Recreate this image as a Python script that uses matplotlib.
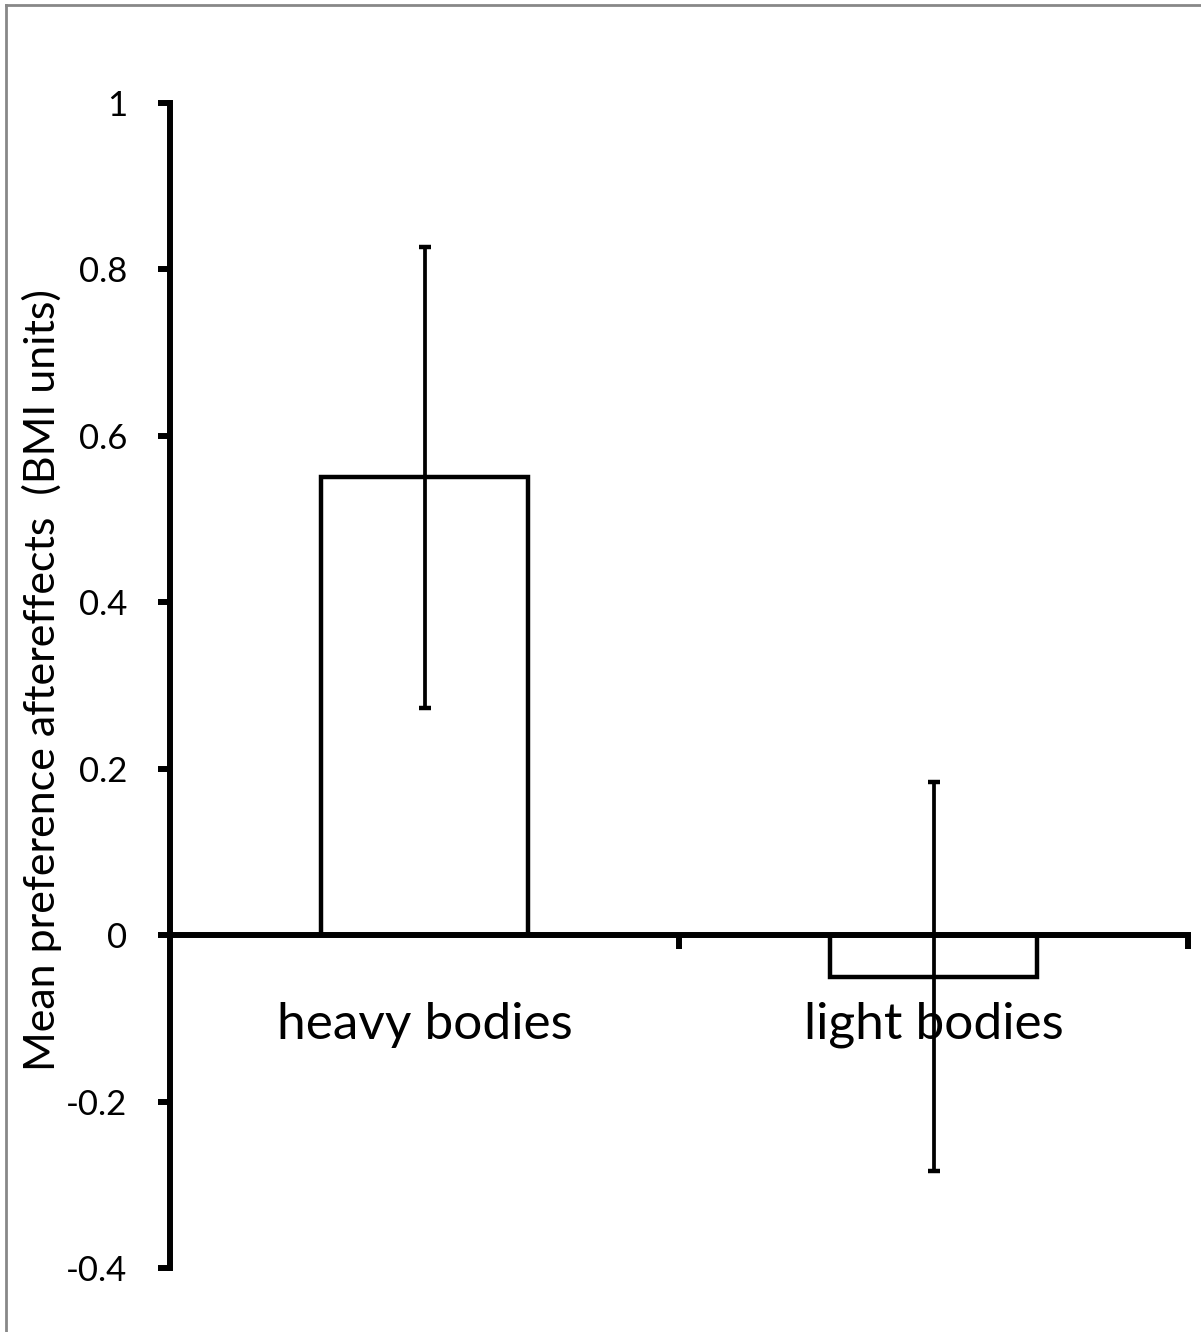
import matplotlib
matplotlib.use("Agg")
import matplotlib.pyplot as plt
from matplotlib.lines import Line2D

categories = ["heavy bodies", "light bodies"]
means = [0.55, -0.05]
errors = [0.277, 0.234]
yticks = [-0.4, -0.2, 0, 0.2, 0.4, 0.6, 0.8, 1]
ytick_labels = ["-0.4", "-0.2", "0", "0.2", "0.4", "0.6", "0.8", "1"]
ylabel = "Mean preference aftereffects  (BMI units)"

plt.rcParams['font.family'] = ['Lato', 'DejaVu Sans']

fig = plt.figure(figsize=(12.01, 13.32), dpi=100)
ax = fig.add_axes([170/1201, 1 - 1268/1332, (1188-170)/1201, (1268-103)/1332])

x = [0.5, 1.5]
ax.bar(x, means, width=0.405, color='white', edgecolor='black', linewidth=3.2, zorder=2)
ax.errorbar(x, means, yerr=errors, fmt='none', ecolor='black', elinewidth=2.7,
            capsize=4.5, capthick=3.2, zorder=3)

ax.set_xlim(0, 2)
ax.set_ylim(-0.4, 1)
ax.spines['top'].set_visible(False)
ax.spines['right'].set_visible(False)
ax.spines['left'].set_linewidth(4.3)
ax.spines['bottom'].set_linewidth(4.3)
ax.spines['bottom'].set_position(('data', 0))
ax.spines['left'].set_zorder(4)
ax.spines['bottom'].set_zorder(4)

ax.set_yticks(yticks)
ax.set_yticklabels(ytick_labels, fontsize=25)
ax.tick_params(axis='y', direction='out', length=9, width=4.3, pad=22)

ax.set_xticks([1, 2])
ax.set_xticklabels(["", ""])
ax.set_xticks(x, minor=True)
ax.set_xticklabels(categories, minor=True, fontsize=37)
ax.tick_params(axis='x', which='major', direction='out', length=10, width=4.3)
ax.tick_params(axis='x', which='minor', length=0, pad=48)

ax.set_ylabel(ylabel, fontsize=31)
ax.yaxis.set_label_coords(-0.106, 0.505)
ax.patch.set_visible(False)

# chart area border (top and left visible)
fig.add_artist(Line2D([6/1201, 6/1201], [0, 1 - 5/1332], transform=fig.transFigure,
                      color='#888888', linewidth=2))
fig.add_artist(Line2D([6/1201, 1], [1 - 5/1332, 1 - 5/1332], transform=fig.transFigure,
                      color='#888888', linewidth=2))

fig.savefig("out.png", dpi=100)
